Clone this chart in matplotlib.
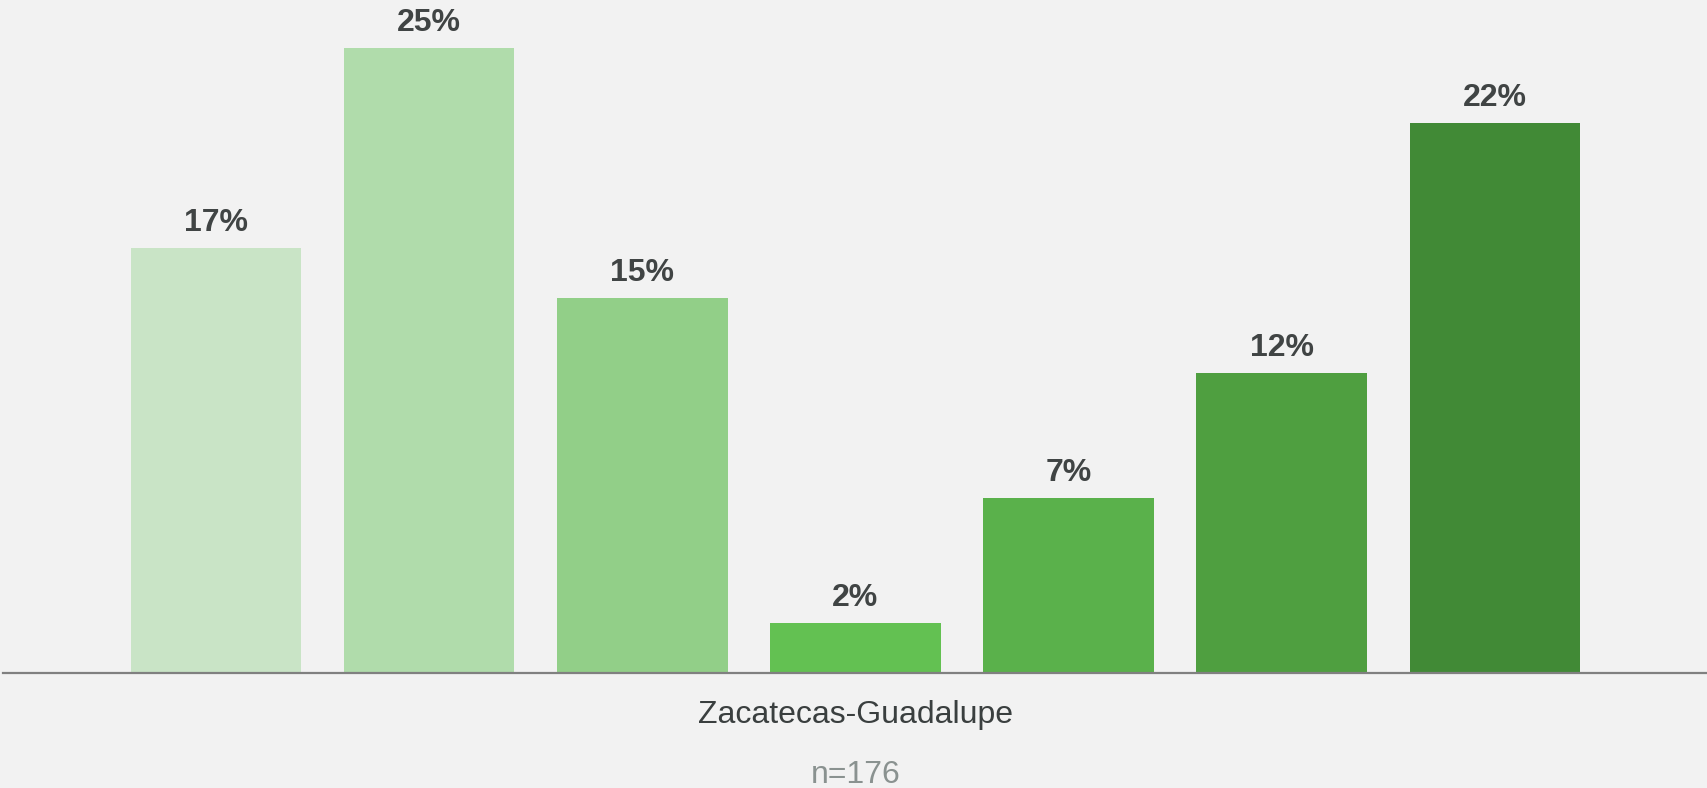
import matplotlib
matplotlib.use('Agg')
import matplotlib.pyplot as plt
import numpy as np

# data
category = 'Zacatecas-Guadalupe'
sample_note = 'n=176'
values = [17, 25, 15, 2, 7, 12, 22]
bar_colors = ['#C9E4C6', '#B0DCAB', '#92CF88', '#63C152', '#5AB14B', '#4F9F40', '#418A36']

plt.rcParams['font.family'] = ['Liberation Sans', 'DejaVu Sans']

W, H = 1708, 788
fig = plt.figure(figsize=(W / 100, H / 100), dpi=100)
fig.patch.set_facecolor('#F2F2F2')

# axes: baseline at y=673 px from top, spans almost full width
ax = fig.add_axes([3 / W, (H - 673) / H, 1 - 3 / W, 673 / H])
ax.set_facecolor('#F2F2F2')

x = np.arange(len(values))
ax.bar(x, values, width=0.8, color=bar_colors, zorder=2)

ax.set_xlim(-1, 7)
ax.set_ylim(0, 673 / 25)

for spine in ['top', 'right', 'left']:
    ax.spines[spine].set_visible(False)
ax.spines['bottom'].set_color('#808080')
ax.spines['bottom'].set_linewidth(1.6)
ax.spines['bottom'].set_zorder(3)
ax.set_xticks([])
ax.set_yticks([])

# value labels above bars
for xi, v in zip(x, values):
    ax.annotate('{}%'.format(v), xy=(xi, v), xytext=(0, 12.5), textcoords='offset points',
                ha='center', va='baseline', fontsize=23, fontweight='bold', color='#404444')

# category label and sample size under the axis
center = x.mean()
ax.annotate(category, xy=(center, 0), xycoords=('data', 'axes fraction'),
            xytext=(0, -36), textcoords='offset points',
            ha='center', va='baseline', fontsize=23, color='#3A3F3F')
ax.annotate(sample_note, xy=(center, 0), xycoords=('data', 'axes fraction'),
            xytext=(0, -79), textcoords='offset points',
            ha='center', va='baseline', fontsize=23, color='#8A9290')

fig.savefig('out.png', dpi=100, facecolor=fig.get_facecolor())
